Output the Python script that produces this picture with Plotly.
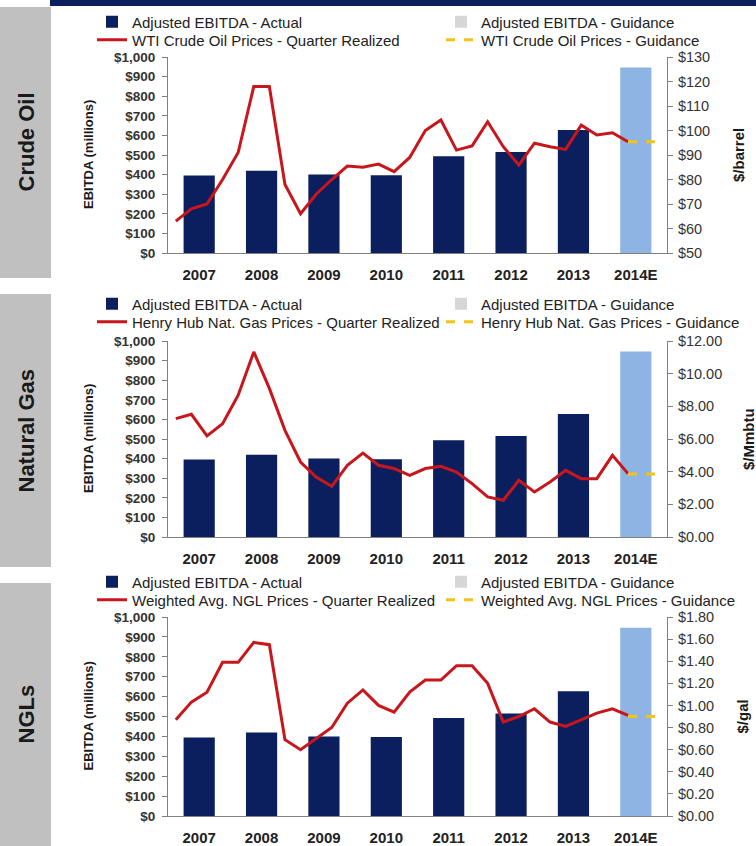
import plotly.graph_objects as go

W, H = 756, 846

# ---------------- data ----------------
years = ["2007", "2008", "2009", "2010", "2011", "2012", "2013", "2014E"]
actual_years = ["2007", "2008", "2009", "2010", "2011", "2012", "2013"]
ebitda_actual = [395, 420, 400, 397, 493, 515, 627]
guidance_years = ["2014E"]
ebitda_guidance = [946]

realized_quarters = [
    "2007Q1", "2007Q2", "2007Q3", "2007Q4",
    "2008Q1", "2008Q2", "2008Q3", "2008Q4",
    "2009Q1", "2009Q2", "2009Q3", "2009Q4",
    "2010Q1", "2010Q2", "2010Q3", "2010Q4",
    "2011Q1", "2011Q2", "2011Q3", "2011Q4",
    "2012Q1", "2012Q2", "2012Q3", "2012Q4",
    "2013Q1", "2013Q2", "2013Q3", "2013Q4",
    "2014Q1", "2014Q2",
]
guidance_quarters = ["2014Q2", "2014Q3", "2014Q4"]

crude_realized = [63, 68, 70, 80,
                  91, 118, 118, 78,
                  66, 74, 80, 85.5,
                  85, 86.3, 83.2, 89,
                  100, 104.3, 92, 93.7,
                  103.6, 93.4, 85.9, 94.8,
                  93.4, 92.3, 102.2, 98.2,
                  99.1, 95.4]
crude_guidance = [95.4, 95.4, 95.4]

gas_realized = [7.25, 7.51, 6.19, 6.94,
                8.68, 11.33, 9.1, 6.53,
                4.59, 3.67, 3.10, 4.39,
                5.14, 4.39, 4.19, 3.78,
                4.19, 4.33, 3.98, 3.27,
                2.45, 2.25, 3.47, 2.76,
                3.37, 4.08, 3.57, 3.57,
                5.00, 3.88]
gas_guidance = [3.85, 3.85, 3.85]

ngl_realized = [0.87, 1.03, 1.12, 1.39,
                1.39, 1.57, 1.55, 0.69,
                0.60, 0.70, 0.80, 1.02,
                1.14, 1.00, 0.94, 1.12,
                1.23, 1.23, 1.36, 1.36,
                1.20, 0.85, 0.90, 0.97,
                0.85, 0.81, 0.87, 0.93,
                0.97, 0.91]
ngl_guidance = [0.90, 0.90, 0.90]

panel_titles = ["Crude Oil", "Natural Gas", "NGLs"]
realized_names = ["WTI Crude Oil Prices - Quarter Realized",
                  "Henry Hub Nat. Gas Prices - Quarter Realized",
                  "Weighted Avg. NGL Prices - Quarter Realized"]
guidance_names = ["WTI Crude Oil Prices - Guidance",
                  "Henry Hub Nat. Gas Prices - Guidance",
                  "Weighted Avg. NGL Prices - Guidance"]
price_units = ["$/barrel", "$/Mmbtu", "$/gal"]
left_title = "EBITDA (millions)"

# ---------------- styling / layout geometry ----------------
FONT = "Liberation Sans, Arial, sans-serif"
NAVY = "#0b1f5e"
LIGHTBLUE = "#8db4e2"
LEG_GRAY = "#d6d6d6"
RED = "#c8161d"
YELLOW = "#f2c318"
AXIS = "#808080"
SIDE_GRAY = "#c0c0c0"

def X(px):
    return px / W

def Y(py):
    return 1 - py / H

year_pos = {y: i for i, y in enumerate(years)}

def qx(labels):
    out = []
    for lab in labels:
        yr = lab[:4]
        key = yr if yr in year_pos else yr + "E"
        q = int(lab[-1])
        out.append(year_pos[key] + (q - 2.5) / 4)
    return out

panels = [
    dict(realized=crude_realized, guid=crude_guidance, rrange=[50, 130], rdtick=10,
         rfmt="$,.0f", top=57, bot=253, rows=(22, 40), box=(7, 278), rtx=738),
    dict(realized=gas_realized, guid=gas_guidance, rrange=[0, 12], rdtick=2,
         rfmt="$.2f", top=341, bot=537, rows=(304, 322), box=(294, 567), rtx=748),
    dict(realized=ngl_realized, guid=ngl_guidance, rrange=[0, 1.8], rdtick=0.2,
         rfmt="$.2f", top=617, bot=816, rows=(582, 600), box=(583, 846), rtx=742),
]

fig = go.Figure()
layout = dict(
    width=W, height=H,
    margin=dict(l=0, r=0, t=0, b=0, autoexpand=False),
    paper_bgcolor="white", plot_bgcolor="white",
    barmode="overlay",
    font=dict(family=FONT, color="#222222"),
    shapes=[], annotations=[],
)

for i, p in enumerate(panels):
    n = i + 1
    xa = "x" if n == 1 else f"x{n}"
    yl = "y" if n == 1 else f"y{2 * n - 1}"
    yr = f"y{2 * n}"
    leg_a = "legend" if i == 0 else f"legend{2 * i + 1}"
    leg_b = f"legend{2 * i + 2}"

    fig.add_trace(go.Bar(x=[year_pos[y] for y in actual_years], y=ebitda_actual, width=0.5,
                         marker=dict(color=NAVY, line=dict(width=0)),
                         name="Adjusted EBITDA - Actual", xaxis=xa, yaxis=yl,
                         legend=leg_a, legendwidth=304, hoverinfo="skip"))
    fig.add_trace(go.Bar(x=[year_pos[y] for y in guidance_years], y=ebitda_guidance, width=0.5,
                         marker=dict(color=LIGHTBLUE, line=dict(width=0)),
                         showlegend=False, xaxis=xa, yaxis=yl, hoverinfo="skip"))
    # legend-only entry (guidance shown grey in the legend)
    fig.add_trace(go.Bar(x=[year_pos[y] for y in guidance_years], y=[None], width=0.5,
                         marker=dict(color=LEG_GRAY, line=dict(width=0)),
                         name="Adjusted EBITDA - Guidance", xaxis=xa, yaxis=yl,
                         legend=leg_a, legendwidth=262, hoverinfo="skip"))
    fig.add_trace(go.Scatter(x=qx(realized_quarters), y=p["realized"], mode="lines",
                             line=dict(color=RED, width=3),
                             name=realized_names[i], xaxis=xa, yaxis=yr,
                             legend=leg_b, legendwidth=304))
    fig.add_trace(go.Scatter(x=qx(guidance_quarters), y=p["guid"], mode="lines",
                             line=dict(color=YELLOW, width=3, dash="dash"),
                             name=guidance_names[i], xaxis=xa, yaxis=yr,
                             legend=leg_b, legendwidth=262))

    dom_y = [Y(p["bot"]), Y(p["top"])]
    layout["xaxis" if n == 1 else f"xaxis{n}"] = dict(
        domain=[X(168), X(667)], anchor=yl, range=[-0.5, 7.5],
        tickmode="array", tickvals=list(range(len(years))), ticktext=years,
        showline=True, linecolor=AXIS, linewidth=1, ticks="",
        ticklabelstandoff=8, showgrid=False, zeroline=False,
        tickfont=dict(family=FONT, size=15, color="#222222", weight="bold"),
    )
    layout["yaxis" if n == 1 else f"yaxis{2 * n - 1}"] = dict(
        domain=dom_y, anchor=xa, range=[0, 1000], dtick=100, tick0=0,
        tickformat="$,.0f", ticks="outside", ticklen=5, tickcolor=AXIS,
        showline=True, linecolor=AXIS, linewidth=1, showgrid=False, zeroline=False,
        ticklabelstandoff=4,
        tickfont=dict(family=FONT, size=13.5, color="#333333", weight="bold"),
    )
    layout[f"yaxis{2 * n}"] = dict(
        overlaying=yl, side="right", anchor=xa, range=p["rrange"], dtick=p["rdtick"],
        tick0=p["rrange"][0], tickformat=p["rfmt"], ticks="outside", ticklen=5,
        tickcolor=AXIS, showline=True, linecolor=AXIS, linewidth=1,
        showgrid=False, zeroline=False, ticklabelstandoff=2,
        tickfont=dict(family=FONT, size=14.5, color="#333333"),
    )
    for leg, row_y in ((leg_a, p["rows"][0]), (leg_b, p["rows"][1])):
        layout[leg] = dict(
            orientation="h", x=X(92), xanchor="left", y=Y(row_y), yanchor="middle",
            bgcolor="rgba(0,0,0,0)", borderwidth=0,
            font=dict(family=FONT, size=15, color="#222222"),
            itemclick=False, itemdoubleclick=False,
        )

    # side grey box with title
    layout["shapes"].append(dict(type="rect", xref="paper", yref="paper",
                                 x0=0, x1=X(51), y0=Y(p["box"][1]), y1=Y(p["box"][0]),
                                 fillcolor=SIDE_GRAY, line=dict(width=0), layer="below"))
    layout["annotations"].append(dict(
        text=panel_titles[i], xref="paper", yref="paper",
        x=X(26), y=Y((p["box"][0] + p["box"][1]) / 2), textangle=-90,
        showarrow=False, xanchor="center", yanchor="middle",
        font=dict(family=FONT, size=22, color="#1a1a1a", weight="bold")))
    mid = (p["top"] + p["bot"]) / 2
    layout["annotations"].append(dict(
        text=left_title, xref="paper", yref="paper", x=X(88), y=Y(mid), textangle=-90,
        showarrow=False, xanchor="center", yanchor="middle",
        font=dict(family=FONT, size=13, color="#1a1a1a", weight="bold")))
    layout["annotations"].append(dict(
        text=price_units[i], xref="paper", yref="paper", x=X(p["rtx"]), y=Y(mid),
        textangle=-90, showarrow=False, xanchor="center", yanchor="middle",
        font=dict(family=FONT, size=15, color="#1a1a1a", weight="bold")))

# top navy band
layout["shapes"].append(dict(type="rect", xref="paper", yref="paper",
                             x0=X(50), x1=1, y0=Y(6), y1=1,
                             fillcolor=NAVY, line=dict(width=0), layer="below"))

fig.update_layout(**layout)
fig.write_html("out.html",
               config={"displayModeBar": False},
               post_script="document.body.style.margin='0px';"
                           "document.body.style.overflow='hidden';")
